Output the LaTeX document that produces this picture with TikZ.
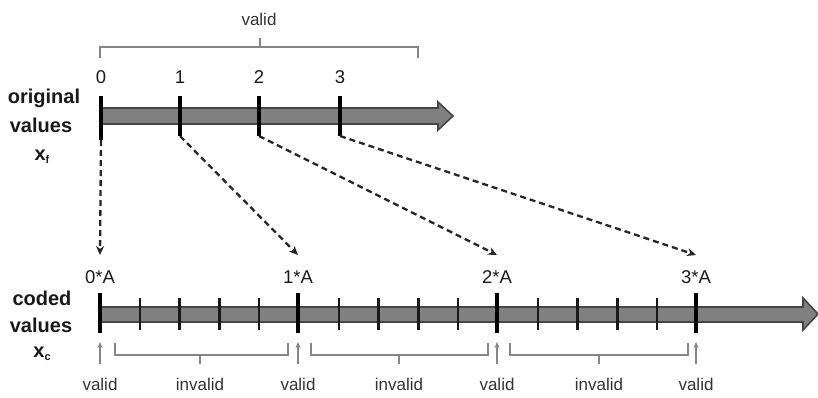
\documentclass[tikz,border=0pt]{standalone}
\usepackage{fontspec}
\setmainfont{Liberation Sans}
\usetikzlibrary{arrows.meta}
\definecolor{barfill}{HTML}{808080}
\definecolor{barline}{HTML}{454545}
\definecolor{brk}{HTML}{858585}
\definecolor{lbl}{HTML}{333333}
\begin{document}
\begin{tikzpicture}[x=1pt,y=-1pt,
  bar/.style={fill=barfill,draw=barline,line width=1.6pt,line join=miter},
  majtick/.style={line width=3.4pt,black},
  mintick/.style={line width=2.4pt,black!90},
  maparrow/.style={dash pattern=on 6pt off 4pt,line width=2.3pt,black!85,-{Stealth[length=9pt,width=8pt]}},
  bracket/.style={draw=brk,line width=1.4pt},
  validarrow/.style={draw=brk,line width=1.1pt,-{Stealth[length=6pt,width=5pt]}},
  axlabel/.style={font=\fontsize{20}{20}\selectfont\bfseries,text=black!90,anchor=base,inner sep=0pt},
  numlabel/.style={font=\fontsize{18.5}{18.5}\selectfont,text=black!90,anchor=base,inner sep=0pt},
  smalllabel/.style={font=\fontsize{17}{17}\selectfont,text=lbl,anchor=base,inner sep=0pt}]
\useasboundingbox (0,0) rectangle (818,397);

% ---------- top axis ----------
\path[bar] (100,108) -- (438,108) -- (438,102) -- (453,116) -- (438,130) -- (438,124) -- (100,124) -- cycle;
\node[axlabel] (orig) at (44,103) {original};
\node[axlabel] (val1) at (41,132) {values};
\node[axlabel] (xf) at (42,160) {x\raisebox{-0.35ex}{\fontsize{11}{11}\selectfont f}};

\foreach \i/\x in {0/101,1/180,2/259,3/340}{
  \coordinate (ot\i) at (\x,96);
  \coordinate (ob\i) at (\x,136);
  \node[numlabel] (on\i) at (\x,83) {\i};
}
\coordinate (ob0) at (101,140);
\foreach \i in {0,1,2,3}{ \draw[majtick] (ot\i) -- (ob\i); }

% top bracket
\coordinate (tbl) at (100,58);
\coordinate (tbr) at (418,58);
\coordinate (tbm) at (260,38);
\draw[bracket] (tbl) |- (418,47) -- (tbr);
\draw[bracket] (260,47) -- (tbm);
\node[smalllabel] (topvalid) at (259,25) {valid};

% ---------- bottom axis ----------
\path[bar] (100,307) -- (803,307) -- (803,298) -- (818,314) -- (803,330) -- (803,322) -- (100,322) -- cycle;
\node[axlabel] (coded) at (42,305) {coded};
\node[axlabel] (val2) at (41,332) {values};
\node[axlabel] (xc) at (42,357) {x\raisebox{-0.35ex}{\fontsize{11}{11}\selectfont c}};

\foreach \k in {1,2,3,4,6,7,8,9,11,12,13,14}{
  \pgfmathsetmacro{\xx}{100+39.8*\k}
  \coordinate (mt\k) at (\xx,298);
  \coordinate (mb\k) at (\xx,330);
  \draw[mintick] (mt\k) -- (mb\k);
}
\foreach \i/\x in {0/100,1/298,2/497,3/696}{
  \coordinate (ct\i) at (\x,293);
  \coordinate (cb\i) at (\x,333);
  \draw[majtick] (ct\i) -- (cb\i);
  \node[numlabel] (cn\i) at (\x,283) {\i*A};
  \coordinate (tip\i) at (\x,255);
  \coordinate (va\i) at (\x,342);
  \coordinate (vb\i) at (\x,364);
  \draw[validarrow] (vb\i) -- (va\i);
  \node[smalllabel] (vl\i) at (\x,390) {valid};
}

% mapping arrows
\draw[maparrow] (ob0) -- (tip0);
\draw[maparrow] (ob1) -- (tip1);
\draw[maparrow] (ob2) -- (tip2);
\draw[maparrow] (ob3) -- (tip3);

% bottom brackets
\foreach \j/\a/\b/\m in {0/115/288/200,1/311/488/399,2/510/688/599}{
  \coordinate (bl\j) at (\a,343);
  \coordinate (br\j) at (\b,343);
  \coordinate (bm\j) at (\m,364);
  \draw[bracket] (bl\j) |- (\b,355) -- (br\j);
  \draw[bracket] (\m,355) -- (bm\j);
  \node[smalllabel] (inv\j) at (\m,390) {invalid};
}
\end{tikzpicture}
\end{document}
